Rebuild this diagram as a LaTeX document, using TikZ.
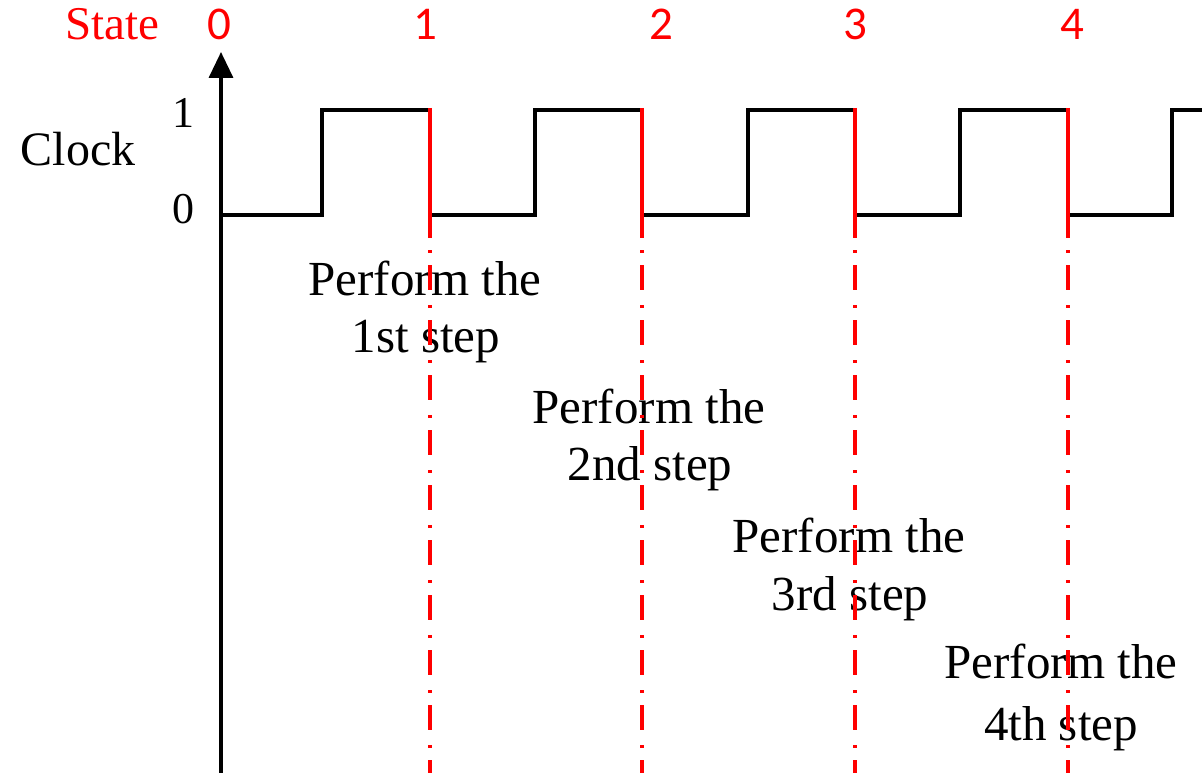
\documentclass[tikz,border=0pt]{standalone}
\usepackage{fontspec}
\setmainfont{Liberation Serif}
\newfontfamily\digitfont{Carlito}
\usetikzlibrary{arrows.meta}
\begin{document}
\begin{tikzpicture}[x=1pt,y=-1pt,
  wave/.style={line width=3.3pt,line join=miter},
  axisline/.style={line width=3.5pt,-{Triangle[length=26pt,width=24pt]}},
  edgesolid/.style={red,line width=3.5pt},
  edgedash/.style={red,line width=3.5pt,dash pattern=on 25pt off 15pt on 3pt off 12pt,dash phase=28pt},
  statenum/.style={red,font=\digitfont\fontsize{47}{56}\selectfont,inner sep=0pt,anchor=base},
  statename/.style={red,font=\fontsize{47}{56}\selectfont,inner sep=0pt,anchor=base},
  levellbl/.style={font=\fontsize{44}{50}\selectfont,inner sep=0pt,anchor=base},
  steptxt/.style={font=\fontsize{49}{58}\selectfont,inner sep=0pt,anchor=base}]
\useasboundingbox (0,0) rectangle (1202,773);

% state numbers along the top
\node[statename] (statetitle) at (112,40) {State};
\node[statenum] (s0) at (219,40) {0};
\node[statenum] (s1) at (425,40) {1};
\node[statenum] (s2) at (661,40) {2};
\node[statenum] (s3) at (855,40) {3};
\node[statenum] (s4) at (1072,40) {4};

% signal name and levels
\node[levellbl,font=\fontsize{48}{56}\selectfont] (clk) at (78,165) {Clock};
\node[levellbl] (hi) at (183,128) {1};
\node[levellbl] (lo) at (183,223) {0};

% what happens in each state
\node[steptxt] (p1a) at (425,295) {Perform the};
\node[steptxt] (p1b) at (426,352) {1st step};
\node[steptxt] (p2a) at (649,423) {Perform the};
\node[steptxt] (p2b) at (650,480) {2nd step};
\node[steptxt] (p3a) at (849,552) {Perform the};
\node[steptxt] (p3b) at (850,610) {3rd step};
\node[steptxt] (p4a) at (1061,678) {Perform the};
\node[steptxt] (p4b) at (1061,740) {4th step};

% vertical axis
\coordinate (axbot) at (221,775);
\coordinate (axtop) at (221,52);
\draw[axisline] (axbot) -- (axtop);

% clock waveform
\draw[wave] (221,215) -- (322,215) -- (322,110) -- (430,110) -- (430,215)
  -- (535,215) -- (535,110) -- (642,110) -- (642,215)
  -- (748,215) -- (748,110) -- (855,110) -- (855,215)
  -- (960,215) -- (960,110) -- (1068,110) -- (1068,215)
  -- (1172,215) -- (1172,110) -- (1204,110);

% falling edges marking the state boundaries
\foreach \i/\x in {1/430,2/642,3/855,4/1068}{
  \coordinate (f\i) at (\x,108);
  \coordinate (m\i) at (\x,238);
  \coordinate (b\i) at (\x,775);
  \draw[edgesolid] (f\i) -- (m\i);
  \draw[edgedash] (m\i) -- (b\i);
}
\end{tikzpicture}
\end{document}
